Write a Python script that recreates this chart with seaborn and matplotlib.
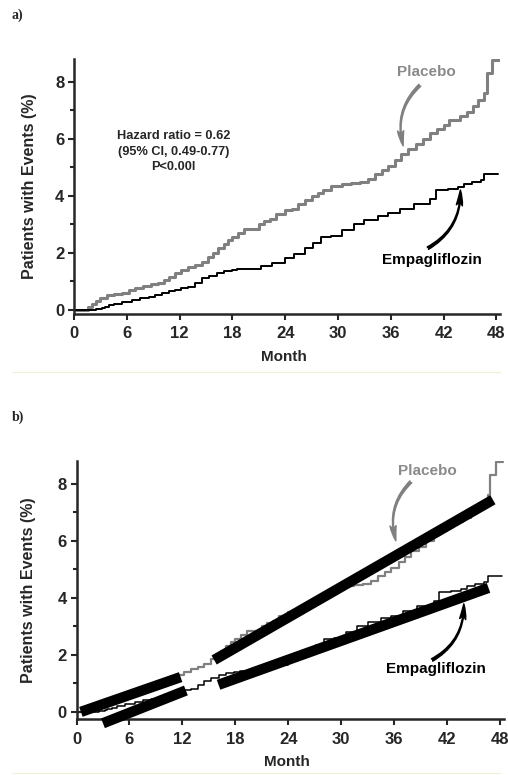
import numpy as np
import pandas as pd
import seaborn as sns
import matplotlib.pyplot as plt
from matplotlib.ticker import MultipleLocator
from matplotlib.lines import Line2D

# Kaplan-Meier steps (month, cumulative % with event)
placebo_month = [0, 1.3, 1.6, 2.0, 2.5, 3.0, 3.8, 4.6, 5.4, 6.2, 6.9, 7.8, 8.8, 9.6,
                 10.2, 10.8, 11.5, 12.2, 13.0, 13.8, 14.5, 15.2, 15.8, 16.4, 17.0,
                 17.5, 18.0, 18.6, 19.3, 21.0, 21.6, 22.3, 23.0, 24.0, 24.8, 25.5,
                 26.2, 27.0, 27.7, 28.3, 29.2, 30.5, 31.5, 32.5, 33.4, 34.2, 35.0,
                 35.7, 36.5, 37.2, 37.9, 38.8, 39.6, 40.5, 41.2, 42.0, 42.6, 43.8,
                 44.7, 45.3, 45.9, 46.6, 46.9, 47.5, 48.3]
placebo_pct = [0, 0, 0.1, 0.2, 0.3, 0.4, 0.5, 0.55, 0.6, 0.68, 0.77, 0.85, 0.9, 0.95,
               1.05, 1.15, 1.3, 1.4, 1.5, 1.58, 1.68, 1.85, 2.0, 2.15, 2.3,
               2.45, 2.55, 2.7, 2.85, 3.0, 3.1, 3.2, 3.35, 3.5, 3.55, 3.7,
               3.85, 4.0, 4.1, 4.2, 4.35, 4.4, 4.45, 4.5, 4.6, 4.75, 4.9,
               5.05, 5.25, 5.45, 5.65, 5.8, 6.0, 6.2, 6.35, 6.5, 6.65, 6.8,
               6.95, 7.15, 7.35, 7.6, 8.3, 8.75, 8.75]

empa_month = [0, 1.7, 2.5, 3.2, 3.5, 4.0, 4.6, 5.5, 6.6, 7.5, 8.5, 9.2, 10.0, 10.8,
              11.5, 12.2, 13.0, 13.8, 14.5, 15.3, 16.2, 17.0, 17.9, 18.5, 21.3,
              22.5, 24.0, 25.0, 26.2, 27.2, 28.1, 29.2, 30.5, 31.8, 33.0, 34.5,
              35.7, 37.0, 38.6, 40.5, 41.1, 42.5, 43.6, 44.3, 45.2, 46.2, 46.6, 48.2]
empa_pct = [0, 0, 0.03, 0.05, 0.1, 0.15, 0.2, 0.28, 0.35, 0.4, 0.45, 0.52, 0.6, 0.65,
            0.7, 0.75, 0.8, 0.95, 1.1, 1.2, 1.28, 1.35, 1.4, 1.42, 1.55,
            1.65, 1.8, 1.95, 2.15, 2.35, 2.55, 2.6, 2.8, 3.0, 3.15, 3.28,
            3.38, 3.55, 3.72, 3.9, 4.2, 4.25, 4.3, 4.42, 4.48, 4.55, 4.75, 4.75]

# thick straight pieces overlaid in panel b
placebo_fit_month = [[0.5, 11.8], [15.6, 47.2]]
placebo_fit_pct = [[0.0, 1.22], [1.82, 7.44]]
empa_fit_month = [[3.0, 12.4], [16.1, 46.7]]
empa_fit_pct = [[-0.4, 0.75], [0.95, 4.35]]

x_ticks = [0, 6, 12, 18, 24, 30, 36, 42, 48]
y_ticks = [0, 2, 4, 6, 8]

sns.set_style("ticks")
plt.rcParams['font.family'] = ['Liberation Sans', 'DejaVu Sans']
plt.rcParams['font.weight'] = 'bold'

GRAY = '#808080'
TXT_GRAY = '#8a8a8a'

fig = plt.figure(figsize=(5.08, 7.75), dpi=100)
ax_a = fig.add_axes([74 / 508, 1 - 314 / 775, 426 / 508, 255 / 775])
ax_b = fig.add_axes([76.5 / 508, 1 - 719 / 775, 427 / 508, 258 / 775])

km = pd.concat([
    pd.DataFrame({'month': placebo_month, 'pct': placebo_pct, 'arm': 'Placebo'}),
    pd.DataFrame({'month': empa_month, 'pct': empa_pct, 'arm': 'Empagliflozin'}),
])


def style_axis(ax, ybottom, xlab_y, ylab_x):
    ax.set_xlim(0, 48.4)
    ax.set_ylim(ybottom, 8.8)
    ax.set_xticks(x_ticks)
    ax.set_yticks(y_ticks)
    ax.yaxis.set_minor_locator(MultipleLocator(1))
    ax.tick_params(axis='both', which='both', direction='out', width=1.5,
                   labelsize=12, pad=3)
    ax.tick_params(axis='both', which='major', length=4)
    ax.tick_params(axis='both', which='minor', length=3)
    ax.tick_params(axis='x', pad=5)
    for lab in ax.get_xticklabels() + ax.get_yticklabels():
        lab.set_fontweight('bold')
    sns.despine(ax=ax)
    for s in ['left', 'bottom']:
        ax.spines[s].set_linewidth(1.8)
    ax.set_xlabel('Month', fontsize=11, fontweight='bold')
    ax.set_ylabel('Patients with Events (%)', fontsize=11.5, fontweight='bold')
    ax.xaxis.set_label_coords(0.493, xlab_y)
    ax.yaxis.set_label_coords(ylab_x, 0.5)


def draw_km(ax, lw_p, lw_e):
    sub = km[km.arm == 'Placebo']
    sns.lineplot(data=sub, x='month', y='pct', ax=ax, color=GRAY, lw=lw_p,
                 drawstyle='steps-post', estimator=None, sort=False, legend=False)
    sub = km[km.arm == 'Empagliflozin']
    sns.lineplot(data=sub, x='month', y='pct', ax=ax, color='black', lw=lw_e,
                 drawstyle='steps-post', estimator=None, sort=False, legend=False)


def arrow(ax, tail, head, color, rad):
    ax.annotate('', xy=head, xytext=tail,
                arrowprops=dict(arrowstyle='fancy,head_length=1.0,head_width=0.4,tail_width=0.18',
                                connectionstyle='arc3,rad=%s' % rad, color=color,
                                shrinkA=0, shrinkB=0, mutation_scale=11))


# panel a
draw_km(ax_a, 2.2, 1.4)
style_axis(ax_a, -0.15, -0.143, -0.086)
ax_a.text(11.3, 5.55, 'Hazard ratio = 0.62\n(95% CI, 0.49-0.77)\nP<0.00l',
          ha='center', va='center', fontsize=9.2, fontweight='bold', linespacing=1.4)
ax_a.text(40.0, 8.34, 'Placebo', ha='center', va='center', color=TXT_GRAY,
          fontsize=11, fontweight='bold')
ax_a.text(40.7, 1.74, 'Empagliflozin', ha='center', va='center', color='black',
          fontsize=11, fontweight='bold')
arrow(ax_a, (39.3, 7.88), (37.4, 5.75), GRAY, 0.3)
arrow(ax_a, (40.2, 2.16), (43.9, 4.2), 'black', 0.3)

# panel b
draw_km(ax_b, 1.6, 1.1)
for mx, my in zip(placebo_fit_month + empa_fit_month, placebo_fit_pct + empa_fit_pct):
    sns.lineplot(x=mx, y=my, ax=ax_b, color='black', lw=7.5, solid_capstyle='butt',
                 estimator=None, sort=False, legend=False, clip_on=False, zorder=5)
style_axis(ax_b, -0.25, -0.14, -0.095)
ax_b.text(39.8, 8.45, 'Placebo', ha='center', va='center', color=TXT_GRAY,
          fontsize=11, fontweight='bold')
ax_b.text(40.7, 1.5, 'Empagliflozin', ha='center', va='center', color='black',
          fontsize=11, fontweight='bold')
arrow(ax_b, (37.9, 8.07), (36.2, 6.0), GRAY, 0.3)
arrow(ax_b, (40.3, 1.82), (43.9, 3.79), 'black', 0.3)

# panel letters
fig.text(12 / 508, 1 - 15 / 775, 'a)', fontsize=10, fontweight='bold',
         family='Liberation Serif', va='center')
fig.text(12 / 508, 1 - 417 / 775, 'b)', fontsize=10, fontweight='bold',
         family='Liberation Serif', va='center')

# faint separator lines from the scanned page
for yy in [372, 773]:
    fig.add_artist(Line2D([12 / 508, 500 / 508], [1 - yy / 775] * 2,
                          color='#f1efd6', lw=0.8))

fig.savefig('out.png', dpi=100)
